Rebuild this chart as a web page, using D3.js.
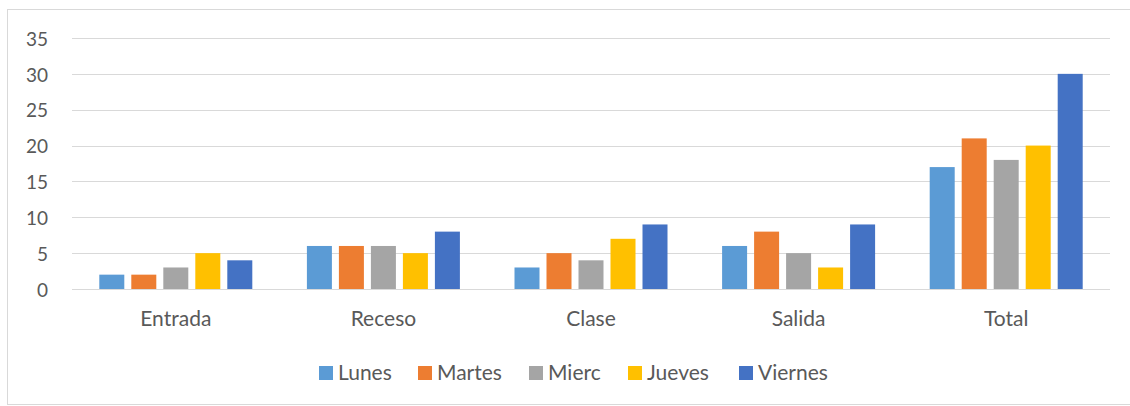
<!DOCTYPE html>
<html><head><meta charset="utf-8">
<script src="https://cdn.jsdelivr.net/npm/d3@7"></script>
<style>body{margin:0;background:#fff}svg{display:block}text{font-family:Lato,"Open Sans",sans-serif;fill:#595959}</style>
</head><body><svg id="c" width="1130" height="406"></svg>
<script>
const categories = ["Entrada","Receso","Clase","Salida","Total"];
const seriesNames = ["Lunes","Martes","Mierc","Jueves","Viernes"];
const lunes   = [2,6,3,6,17];
const martes  = [2,6,5,8,21];
const mierc   = [3,6,4,5,18];
const jueves  = [5,5,7,3,20];
const viernes = [4,8,9,9,30];
const yTicks = [0,5,10,15,20,25,30,35];
const colors = ["#5B9BD5","#ED7D31","#A5A5A5","#FFC000","#4472C4"];
const seriesValues = [lunes,martes,mierc,jueves,viernes];

(function(){
const svg = d3.select("#c");
svg.append("rect").attr("x",7.5).attr("y",9.5).attr("width",1130).attr("height",395)
  .attr("fill","#fff").attr("stroke","#D9D9D9");

const pL=72,pR=1110,pT=38,pB=289;
const x = d3.scaleBand().domain(categories).range([pL,pR]);
const y = d3.scaleLinear().domain([0,35]).range([pB,pT]);
const step = 32, bw = 25;

svg.append("g").selectAll("line").data(yTicks).enter().append("line")
  .attr("x1",pL).attr("x2",pR).attr("y1",d=>Math.round(y(d))+0.5).attr("y2",d=>Math.round(y(d))+0.5)
  .attr("stroke","#D9D9D9").attr("stroke-width",1);

const yAxis = svg.append("g").attr("transform",`translate(${pL},0)`)
  .call(d3.axisLeft(y).tickValues(yTicks).tickSize(0).tickPadding(24));
yAxis.select(".domain").remove();
yAxis.selectAll("text").style("font-size","19px").attr("dy","0.38em").attr("fill","#595959").style("font-family","Lato, sans-serif");

seriesValues.forEach((vals,si)=>{
  svg.append("g").selectAll("rect").data(vals).enter().append("rect")
    .attr("x",(d,i)=>x(categories[i])+x.bandwidth()/2+(si-2)*step-bw/2)
    .attr("width",bw)
    .attr("y",d=>y(d))
    .attr("height",d=>y(0)-y(d))
    .attr("fill",colors[si]);
});

const xAxis = svg.append("g").attr("transform",`translate(0,${pB})`)
  .call(d3.axisBottom(x).tickSize(0).tickPadding(22));
xAxis.select(".domain").remove();
xAxis.selectAll("text").style("font-size","21px").attr("fill","#595959").style("font-family","Lato, sans-serif");

const legendX = [319,418,529,628,739];
const lg = svg.append("g");
seriesNames.forEach((n,i)=>{
  lg.append("rect").attr("x",legendX[i]).attr("y",366).attr("width",14).attr("height",14).attr("fill",colors[i]);
  lg.append("text").attr("x",legendX[i]+19).attr("y",380).style("font-size","21px").text(n);
});
})();
</script></body></html>
